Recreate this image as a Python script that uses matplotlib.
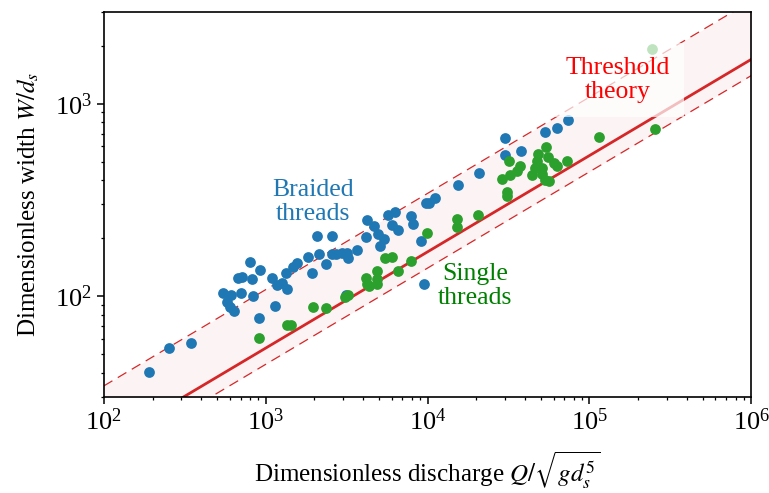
import numpy as np
import matplotlib
matplotlib.use('Agg')
import matplotlib.pyplot as plt

plt.rcParams['font.family'] = 'serif'
plt.rcParams['font.serif'] = ['Liberation Serif', 'DejaVu Serif']
plt.rcParams['mathtext.fontset'] = 'stix'

# braided threads (Q*, W*)
braided_q = [190, 252, 348, 547, 607, 574, 601, 636, 676, 716, 703, 800, 819, 838,
             913, 920, 1088, 1141, 1169, 1256, 1359, 1334, 1469, 1553, 1824, 1945,
             2061, 2145, 2366, 2556, 2556, 2718, 2951, 3165, 3225, 3647, 3156, 4169,
             4246, 4645, 4939, 5406, 5085, 5730, 6328, 6035, 6610, 7907, 8174, 9064,
             9510, 9750, 11120, 10260, 15310, 20650, 30130, 30130, 37840, 53200,
             63240, 73960]
braided_w = [40.3, 53.8, 57.0, 103.6, 101.6, 92.8, 87.4, 83.9, 125, 126.5, 103.6,
             151.3, 122.5, 100.4, 76.9, 136.5, 124, 89.1, 114, 117.8, 108.7, 132.7,
             142.6, 149.6, 159.2, 131.6, 205, 166.6, 147.6, 205, 166.5, 166.5, 168.4,
             167.1, 158.7, 173, 101.8, 203.8, 248.9, 232.3, 209.4, 199, 182.4, 263,
             273.8, 233.9, 220.7, 260.6, 236, 192.7, 115.4, 305.5, 322, 304.8, 378.6,
             438.5, 663.7, 539.6, 566.1, 716.3, 746.7, 826.3]

# single threads (Q*, W*)
single_q = [907, 1359, 1439, 1967, 2360, 3090, 3238, 4169, 4246, 4365, 4852, 4852,
            4897, 5458, 6010, 6577, 7907, 9940, 15280, 15280, 20600, 28770, 30930,
            30930, 31640, 32370, 35570, 37300, 53790, 48420, 55850, 47310, 59980,
            62920, 46240, 50820, 44030, 50820, 53200, 56320, 72600, 114800, 255400,
            243200]
single_w = [60.8, 70.7, 70.7, 87.4, 87.0, 98.5, 101.6, 125, 115.4, 113, 115.4, 122.5,
            134.8, 157.4, 160.6, 134.8, 151.6, 213.3, 250.7, 229.8, 263, 408.2, 348.6,
            331.2, 506.7, 424.7, 445.4, 473.3, 594.3, 548.1, 527.2, 502.2, 493.3,
            473.3, 464.5, 464.5, 428.5, 432.5, 403.6, 398.1, 502.2, 671.4, 738.5, 1918]

# threshold theory W* = k * sqrt(Q*)
k_mid = 1.70
k_upper = 3.42
k_lower = 1.40

q_line = np.logspace(2, 6, 200)

fig, ax = plt.subplots(figsize=(7.69, 4.93), dpi=100)
fig.subplots_adjust(left=0.135, right=0.977, top=0.976, bottom=0.195)

red = '#d62728'
ax.fill_between(q_line, k_lower * np.sqrt(q_line), k_upper * np.sqrt(q_line),
                color=red, alpha=0.05, lw=0, zorder=1)
ax.plot(q_line, k_mid * np.sqrt(q_line), color=red, lw=2, zorder=2)
ax.plot(q_line, k_upper * np.sqrt(q_line), color=red, lw=0.9, ls=(0, (8, 5)), zorder=2)
ax.plot(q_line, k_lower * np.sqrt(q_line), color=red, lw=0.9, ls=(0, (8, 5)), zorder=2)

ax.scatter(braided_q, braided_w, s=60, color='#1f77b4', lw=0, zorder=3)
ax.scatter(single_q, single_w, s=60, color='#2ca02c', lw=0, zorder=3)

ax.text(1960, 307, 'Braided\nthreads', color='#1f77b4', fontsize=18.5,
        ha='center', va='center', linespacing=1.12, zorder=4)
ax.text(19670, 112.7, 'Single\nthreads', color='green', fontsize=18.5,
        ha='center', va='center', linespacing=1.12, zorder=4)
ax.text(148600, 1330, 'Threshold\ntheory', color='red', fontsize=18.5,
        ha='center', va='center', linespacing=1.12, zorder=5,
        bbox=dict(boxstyle='square,pad=0.55', fc='white', ec='none', alpha=0.7))

ax.set_xscale('log')
ax.set_yscale('log')
ax.set_xlim(1e2, 1e6)
ax.set_ylim(30, 3000)

ax.set_xlabel(r'Dimensionless discharge $Q/\sqrt{g d_s^5}$', fontsize=18, labelpad=10)
ax.set_ylabel(r'Dimensionless width $W/d_s$', fontsize=18, labelpad=10)

ax.tick_params(which='major', labelsize=19, length=5, width=1.1)
ax.tick_params(which='minor', length=2.5, width=0.9)
for sp in ax.spines.values():
    sp.set_linewidth(1.2)

fig.savefig('out.png', dpi=100)
